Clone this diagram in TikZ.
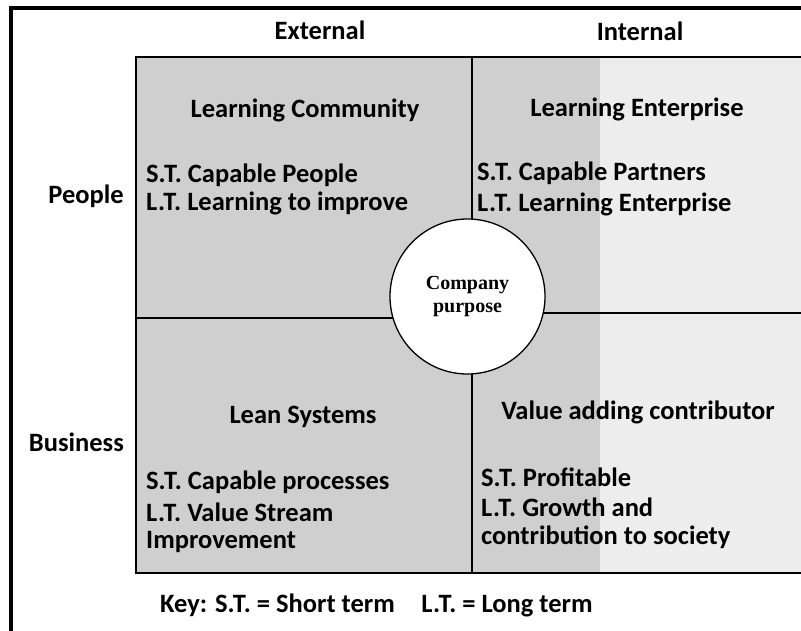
\documentclass[tikz,border=0pt]{standalone}
\usepackage{fontspec}
\setmainfont{Carlito}
\newfontfamily\circlefont{Liberation Serif}

\begin{document}
\begin{tikzpicture}[x=1pt,y=-1pt,
    lbl/.style={font=\fontsize{26.5}{30}\selectfont\bfseries, inner sep=0pt},
    item/.style={lbl, anchor=west, align=left},
    head/.style={lbl, anchor=center}]

    \useasboundingbox (0,0) rectangle (801,631);

    % shaded quadrants
    \fill [gray!38] (136,57) rectangle (600,573);
    \fill [gray!14] (600,57) rectangle (801,573);

    % outer frame (cut on the right and at the bottom)
    \draw [line width=4pt] (801,8) -- (10.5,8) -- (10.5,631);

    % grid
    \draw [line width=1.3pt] (801,57) -- (136,57) -- (136,573) -- (801,573);
    \draw [line width=1.3pt] (472,57) -- (472,573);
    \draw [line width=1.3pt] (136,318) -- (472,318);
    \draw [line width=1.3pt] (472,313) -- (801,313);

    \node [draw, line width=1.3pt, fill=white, circle, minimum size=155pt,
        align=center, font=\circlefont\fontsize{20}{23}\selectfont\bfseries]
        (purpose) at (467.5,296.5) {Company\\purpose};

    \node [head] (ext) at (320,30) {External};
    \node [head] (int) at (640,31) {Internal};
    \node [lbl, anchor=east] (people) at (124,196) {People};
    \node [lbl, anchor=east] (business) at (124,442) {Business};

    \node [head] (lcom) at (305,110) {Learning Community};
    \node [item] (lcomst) at (146,175) {S.T. Capable People};
    \node [item] (lcomlt) at (146,203) {L.T. Learning to improve};

    \node [head] (lent) at (637,109) {Learning Enterprise};
    \node [item] (lentst) at (477,173) {S.T. Capable Partners};
    \node [item] (lentlt) at (477,204) {L.T. Learning Enterprise};

    \node [head] (lean) at (303,417) {Lean Systems};
    \node [item] (leanst) at (146,482) {S.T. Capable processes};
    \node [item] (leanlt) at (146,512) {L.T. Value Stream};
    \node [item] (leanimp) at (146,542) {Improvement};

    \node [head] (vac) at (638,412) {Value adding contributor};
    \node [item] (vacst) at (481,477) {S.T. Profitable};
    \node [item] (vaclt) at (481,507) {L.T. Growth and};
    \node [item] (vacsoc) at (481,537) {contribution to society};

    \node [lbl, anchor=west] (key) at (160,605) {Key: S.T. = Short term\quad L.T. = Long term};

\end{tikzpicture}
\end{document}
